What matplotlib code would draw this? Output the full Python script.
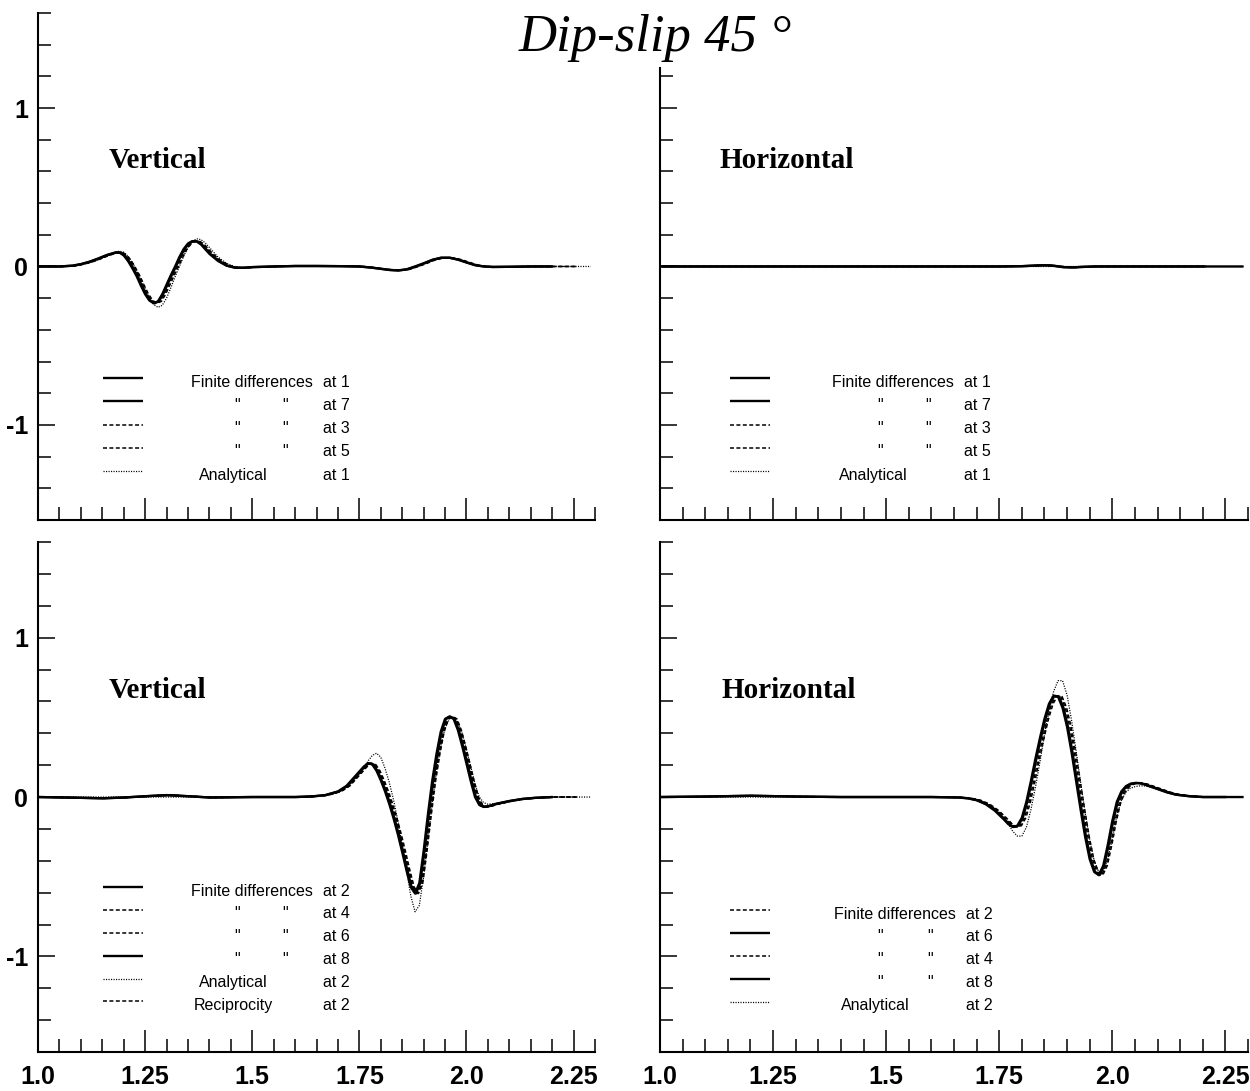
import numpy as np
import matplotlib
matplotlib.use('Agg')
import matplotlib.pyplot as plt
from matplotlib.ticker import FixedLocator

# ==========================================================================================
# DATA
# ==========================================================================================

x_ticks = [1.0, 1.25, 1.5, 1.75, 2.0, 2.25]
x_tick_labels = ['1.0', '1.25', '1.5', '1.75', '2.0', '2.25']
y_ticks = [-1, 0, 1]
y_tick_labels = ['-1', '0', '1']

# --- top-left: vertical, stations 1,7,3,5
t_tl = [1.00, 1.05, 1.08, 1.10, 1.12, 1.14, 1.16, 1.18, 1.19, 1.20, 1.21, 1.22, 1.23, 1.24,
        1.25, 1.26, 1.27, 1.28, 1.29, 1.30, 1.31, 1.32, 1.33, 1.34, 1.35, 1.36, 1.37, 1.38,
        1.39, 1.40, 1.42, 1.44, 1.46, 1.48, 1.50, 1.55, 1.60, 1.65, 1.70, 1.75, 1.78, 1.80,
        1.82, 1.84, 1.86, 1.88, 1.90, 1.92, 1.94, 1.96, 1.98, 2.00, 2.02, 2.04, 2.06, 2.10,
        2.15, 2.20, 2.25, 2.29]
fd_tl = [0.0, 0.0, 0.005, 0.015, 0.03, 0.05, 0.072, 0.088, 0.088, 0.07, 0.035, -0.01, -0.06, -0.12,
         -0.175, -0.215, -0.232, -0.22, -0.175, -0.115, -0.055, 0.0, 0.06, 0.11, 0.145, 0.16, 0.158, 0.14,
         0.11, 0.08, 0.035, 0.005, -0.008, -0.008, -0.004, 0.0, 0.003, 0.003, 0.002, 0.0, -0.008, -0.015,
         -0.022, -0.025, -0.018, 0.0, 0.02, 0.042, 0.055, 0.055, 0.043, 0.025, 0.008, 0.0, -0.003, -0.002,
         0.0, 0.0, 0.0, 0.0]
an_tl = [0.0, 0.0, 0.003, 0.01, 0.024, 0.043, 0.065, 0.088, 0.097, 0.09, 0.065, 0.025, -0.025, -0.08,
         -0.14, -0.2, -0.24, -0.258, -0.245, -0.2, -0.135, -0.065, 0.0, 0.065, 0.12, 0.158, 0.175, 0.17,
         0.15, 0.12, 0.06, 0.02, -0.002, -0.008, -0.005, 0.0, 0.003, 0.003, 0.002, 0.0, -0.008, -0.015,
         -0.022, -0.025, -0.018, 0.0, 0.02, 0.042, 0.055, 0.055, 0.043, 0.025, 0.008, 0.0, -0.003, -0.002,
         0.0, 0.0, 0.0, 0.0]
shift_tl = [0.0, 0.002, 0.005, 0.008]          # stations 1, 7, 3, 5
end_tl = [2.22, 2.22, 2.29, 2.29, 2.29]

# --- top-right: horizontal, stations 1,7,3,5 (practically zero)
t_tr = [1.00, 1.20, 1.40, 1.60, 1.75, 1.80, 1.83, 1.85, 1.87, 1.89, 1.91, 1.93, 1.96, 2.00,
        2.10, 2.20, 2.29]
fd_tr = [0.0, 0.0, 0.0, 0.0, 0.0, 0.002, 0.006, 0.008, 0.004, -0.004, -0.006, -0.003, 0.0, 0.0,
         0.0, 0.0, 0.0]
an_tr = [0.0] * len(t_tr)
shift_tr = [0.0, 0.003, 0.006, 0.009]
end_tr = [2.29, 2.29, 2.29, 2.29, 2.29]

# --- bottom-left: vertical, stations 2,4,6,8 + reciprocity
t_bl = [1.00, 1.10, 1.15, 1.20, 1.25, 1.30, 1.35, 1.40, 1.50, 1.60, 1.64, 1.67, 1.70, 1.72,
        1.74, 1.76, 1.77, 1.78, 1.79, 1.80, 1.81, 1.82, 1.83, 1.84, 1.85, 1.86, 1.87, 1.88,
        1.89, 1.90, 1.91, 1.92, 1.93, 1.94, 1.95, 1.96, 1.97, 1.98, 1.99, 2.00, 2.01, 2.02,
        2.03, 2.04, 2.05, 2.07, 2.10, 2.13, 2.16, 2.20, 2.25, 2.29]
fd_bl = [0.0, -0.005, -0.008, -0.003, 0.005, 0.012, 0.005, -0.003, 0.0, 0.0, 0.004, 0.012, 0.035, 0.07,
         0.13, 0.19, 0.212, 0.205, 0.165, 0.105, 0.035, -0.045, -0.135, -0.235, -0.345, -0.46, -0.565, -0.605,
         -0.54, -0.34, -0.11, 0.1, 0.27, 0.41, 0.49, 0.505, 0.49, 0.42, 0.32, 0.21, 0.1, 0.0,
         -0.05, -0.062, -0.058, -0.042, -0.025, -0.012, -0.005, 0.0, 0.0, 0.0]
an_bl = [0.0, 0.0, 0.0, 0.0, 0.0, 0.0, 0.0, 0.0, 0.0, 0.0, 0.003, 0.01, 0.03, 0.06,
         0.11, 0.18, 0.225, 0.26, 0.275, 0.25, 0.18, 0.09, -0.02, -0.15, -0.3, -0.46, -0.62, -0.72,
         -0.68, -0.5, -0.27, -0.04, 0.16, 0.32, 0.43, 0.49, 0.5, 0.47, 0.4, 0.3, 0.19, 0.08,
         0.0, -0.035, -0.045, -0.04, -0.025, -0.012, -0.005, 0.0, 0.0, 0.0]
shift_bl = [0.0, 0.006, 0.008, 0.002, 0.004]    # stations 2, 4, 6, 8, reciprocity 2
end_bl = [2.22, 2.29, 2.29, 2.22, 2.29, 2.29]

# --- bottom-right: horizontal, stations 2,6,4,8
t_br = [1.00, 1.10, 1.20, 1.30, 1.40, 1.50, 1.60, 1.66, 1.68, 1.70, 1.72, 1.74, 1.76, 1.77,
        1.78, 1.79, 1.80, 1.81, 1.82, 1.83, 1.84, 1.85, 1.86, 1.87, 1.88, 1.89, 1.90, 1.91,
        1.92, 1.93, 1.94, 1.95, 1.96, 1.97, 1.98, 1.99, 2.00, 2.01, 2.02, 2.03, 2.04, 2.05,
        2.06, 2.07, 2.08, 2.10, 2.12, 2.14, 2.17, 2.20, 2.25, 2.29]
fd_br = [0.0, 0.003, 0.008, 0.003, 0.0, 0.0, 0.0, -0.003, -0.008, -0.02, -0.045, -0.085, -0.14, -0.17,
         -0.188, -0.18, -0.13, -0.03, 0.1, 0.24, 0.37, 0.49, 0.585, 0.635, 0.63, 0.56, 0.44, 0.28,
         0.1, -0.08, -0.25, -0.39, -0.47, -0.49, -0.43, -0.3, -0.15, -0.03, 0.035, 0.068, 0.083, 0.088,
         0.087, 0.08, 0.07, 0.05, 0.03, 0.015, 0.005, 0.0, 0.0, 0.0]
an_br = [0.0, 0.0, 0.0, 0.0, 0.0, 0.0, 0.0, -0.002, -0.006, -0.015, -0.035, -0.07, -0.13, -0.17,
         -0.215, -0.245, -0.245, -0.19, -0.08, 0.06, 0.22, 0.39, 0.54, 0.66, 0.73, 0.73, 0.64, 0.48,
         0.29, 0.09, -0.1, -0.27, -0.4, -0.47, -0.47, -0.39, -0.26, -0.12, -0.02, 0.03, 0.055, 0.065,
         0.07, 0.07, 0.065, 0.05, 0.033, 0.018, 0.006, 0.0, 0.0, 0.0]
shift_br = [0.006, 0.0, 0.009, 0.002]           # stations 2, 6, 4, 8
end_br = [2.29, 2.29, 2.29, 2.29, 2.29]

# ==========================================================================================
# STYLES
# ==========================================================================================

STY = {
    'solid':  dict(ls='-', lw=1.7),
    'dashed': dict(ls=(0, (2.6, 1.6)), lw=1.1),
    'dotted': dict(ls=(0, (0.9, 1.1)), lw=0.9),
}
SANS = 'Liberation Sans'
SERIF = 'Liberation Serif'
DITTO = '"'


def series_line(ax, t, v, shift, style, t_end):
    t = np.asarray(t) + shift
    v = np.asarray(v)
    m = t <= t_end
    ax.plot(t[m], v[m], color='black', solid_capstyle='butt', **STY[style])


def setup_axes(ax, xlabels=True, ylabels=True, y_top=1.6):
    ax.set_xlim(1.0, 2.3)
    ax.set_ylim(-1.6, 1.6)
    for s in ['top', 'right']:
        ax.spines[s].set_visible(False)
    for s in ['left', 'bottom']:
        ax.spines[s].set_linewidth(1.5)
    ax.spines['left'].set_bounds(-1.6, y_top)
    ax.set_xticks(x_ticks)
    ax.xaxis.set_minor_locator(FixedLocator(np.round(np.arange(1.0, 2.3001, 0.05), 2)))
    yt = [(v, l) for v, l in zip(y_ticks, y_tick_labels) if v <= y_top]
    ax.set_yticks([v for v, _ in yt])
    ax.set_yticklabels([l for _, l in yt])
    ymin = [y for y in np.round(np.arange(-1.6, 1.6001, 0.2), 1) if y <= y_top + 1e-9]
    ax.yaxis.set_minor_locator(FixedLocator(ymin))
    ax.tick_params(axis='x', which='major', direction='in', length=16, width=1.1,
                   pad=9, labelsize=18)
    ax.tick_params(axis='x', which='minor', direction='in', length=9.5, width=1.1)
    ax.tick_params(axis='y', which='major', direction='in', length=12, width=1.1,
                   pad=7, labelsize=18)
    ax.tick_params(axis='y', which='minor', direction='in', length=9.5, width=1.1)
    if xlabels:
        ax.set_xticklabels(x_tick_labels)
    else:
        ax.tick_params(axis='x', labelbottom=False)
    if not ylabels:
        ax.tick_params(axis='y', labelleft=False)
    for lab in ax.get_xticklabels() + ax.get_yticklabels():
        lab.set_fontfamily(SANS)
        lab.set_fontweight('bold')


def legend(ax, rows, lx0, lx1, name_x, an_x, d1, d2, at_x, y0, dy):
    for i, (style, name, station) in enumerate(rows):
        y = y0 - i * dy
        ax.plot([lx0, lx1], [y + 0.008, y + 0.008], color='black', transform=ax.transAxes,
                clip_on=False, solid_capstyle='butt', **STY[style])
        kw = dict(transform=ax.transAxes, fontsize=11.5, family=SANS, va='center')
        if name == 'ditto':
            ax.text(d1, y, DITTO, ha='center', **kw)
            ax.text(d2, y, DITTO, ha='center', **kw)
        elif name == 'Finite differences':
            ax.text(name_x, y, name, ha='left', **kw)
        else:
            ax.text(an_x, y, name, ha='center', **kw)
        ax.text(at_x, y, f'at {station}', ha='left', **kw)


fig = plt.figure(figsize=(12.5, 10.91), dpi=100)

ax_tl = fig.add_axes([0.0304, 0.5234, 0.4456, 0.4647])
ax_bl = fig.add_axes([0.0304, 0.0357, 0.4456, 0.4675])
ax_tr = fig.add_axes([0.528, 0.5234, 0.4704, 0.4647])
ax_br = fig.add_axes([0.528, 0.0357, 0.4704, 0.4675])

# — top-left
tl_styles = ['solid', 'solid', 'dashed', 'dashed']
series_line(ax_tl, t_tl, an_tl, 0.0, 'dotted', end_tl[4])
for k in [3, 2, 1, 0]:
    series_line(ax_tl, t_tl, fd_tl, shift_tl[k], tl_styles[k], end_tl[k])
setup_axes(ax_tl, xlabels=False)
ax_tl.text(0.126, 0.694, 'Vertical', transform=ax_tl.transAxes, family=SERIF,
           fontweight='bold', fontsize=21, va='baseline')
legend(ax_tl, [('solid', 'Finite differences', 1), ('solid', 'ditto', 7),
               ('dashed', 'ditto', 3), ('dashed', 'ditto', 5), ('dotted', 'Analytical', 1)],
       0.117, 0.188, 0.274, 0.35, 0.357, 0.443, 0.512, 0.272, 0.0459)

# — top-right
series_line(ax_tr, t_tr, an_tr, 0.0, 'dotted', end_tr[4])
for k in [3, 2, 1, 0]:
    series_line(ax_tr, t_tr, fd_tr, shift_tr[k], tl_styles[k], end_tr[k])
setup_axes(ax_tr, xlabels=False, ylabels=False, y_top=1.25)
ax_tr.text(0.102, 0.694, 'Horizontal', transform=ax_tr.transAxes, family=SERIF,
           fontweight='bold', fontsize=21, va='baseline')
legend(ax_tr, [('solid', 'Finite differences', 1), ('solid', 'ditto', 7),
               ('dashed', 'ditto', 3), ('dashed', 'ditto', 5), ('dotted', 'Analytical', 1)],
       0.119, 0.187, 0.292, 0.362, 0.374, 0.456, 0.517, 0.272, 0.0459)

# — bottom-left
bl_styles = ['solid', 'dashed', 'dashed', 'solid', 'dashed']
series_line(ax_bl, t_bl, an_bl, 0.0, 'dotted', end_bl[4])
for k in [4, 2, 1, 3, 0]:
    series_line(ax_bl, t_bl, fd_bl, shift_bl[k], bl_styles[k], end_bl[k if k < 4 else 5])
setup_axes(ax_bl, xlabels=True)
ax_bl.text(0.126, 0.694, 'Vertical', transform=ax_bl.transAxes, family=SERIF,
           fontweight='bold', fontsize=21, va='baseline')
legend(ax_bl, [('solid', 'Finite differences', 2), ('dashed', 'ditto', 4),
               ('dashed', 'ditto', 6), ('solid', 'ditto', 8), ('dotted', 'Analytical', 2),
               ('dashed', 'Reciprocity', 2)],
       0.117, 0.188, 0.274, 0.35, 0.357, 0.443, 0.512, 0.3157, 0.0449)

# — bottom-right
br_styles = ['dashed', 'solid', 'dashed', 'solid']
series_line(ax_br, t_br, an_br, 0.0, 'dotted', end_br[4])
for k in [2, 0, 3, 1]:
    series_line(ax_br, t_br, fd_br, shift_br[k], br_styles[k], end_br[k])
setup_axes(ax_br, xlabels=True, ylabels=False)
ax_br.text(0.105, 0.694, 'Horizontal', transform=ax_br.transAxes, family=SERIF,
           fontweight='bold', fontsize=21, va='baseline')
legend(ax_br, [('dashed', 'Finite differences', 2), ('solid', 'ditto', 6),
               ('dashed', 'ditto', 4), ('solid', 'ditto', 8), ('dotted', 'Analytical', 2)],
       0.119, 0.187, 0.296, 0.366, 0.374, 0.459, 0.521, 0.2706, 0.0449)

fig.text(0.524, 0.965, 'Dip-slip 45 °', family=SERIF, style='italic', fontsize=38,
         ha='center', va='center')

fig.savefig('out.png', dpi=100)
